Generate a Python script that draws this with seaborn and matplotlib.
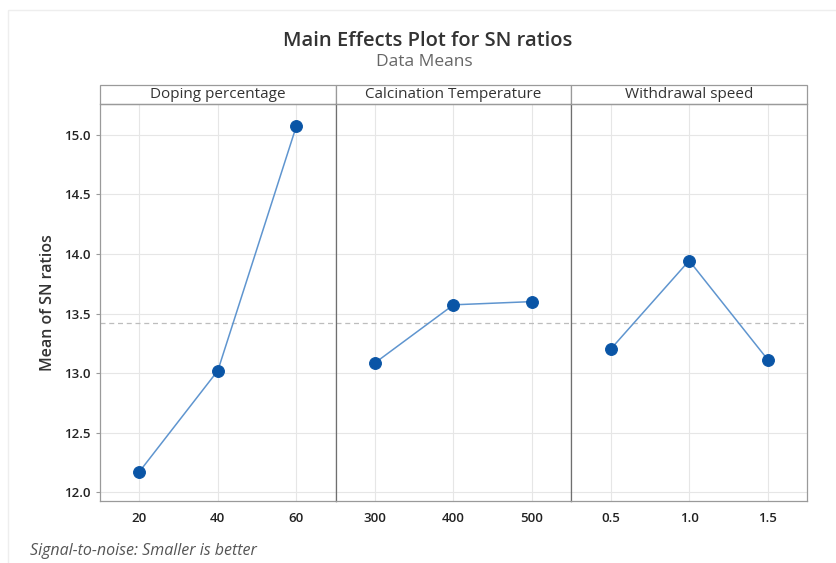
import seaborn as sns
import matplotlib.pyplot as plt
from matplotlib.patches import Rectangle
import pandas as pd
import numpy as np

# factor levels and mean SN ratios
factors = ['Doping percentage', 'Calcination Temperature', 'Withdrawal speed']
doping_levels = [20, 40, 60]
doping_sn = [12.17, 13.02, 15.075]
calc_levels = [300, 400, 500]
calc_sn = [13.085, 13.573, 13.60]
speed_levels = [0.5, 1.0, 1.5]
speed_sn = [13.20, 13.944, 13.113]
speed_labels = ['0.5', '1.0', '1.5']
y_ticks = [12.0, 12.5, 13.0, 13.5, 14.0, 14.5, 15.0]

levels = [doping_levels, calc_levels, speed_levels]
values = [doping_sn, calc_sn, speed_sn]
tick_labels = [[str(v) for v in doping_levels], [str(v) for v in calc_levels], speed_labels]

sns.set_style('white')
plt.rcParams['font.family'] = ['Open Sans', 'DejaVu Sans']

grand_mean = np.mean(doping_sn + calc_sn + speed_sn)

fig, axes = plt.subplots(1, 3, figsize=(8.36, 5.63), dpi=100, sharey=True)
fig.subplots_adjust(left=0.1196, right=0.9653, bottom=0.1101, top=0.8153, wspace=0)

line_col = '#5f95cf'
dot_col = '#0a55a6'
edge_col = '#9a9a9a'

for i, ax in enumerate(axes):
    df = pd.DataFrame({'level': levels[i], 'sn': values[i]})
    sns.lineplot(data=df, x='level', y='sn', ax=ax, color=line_col, lw=1.1,
                 marker='o', markersize=8.5, markerfacecolor=dot_col,
                 markeredgecolor=dot_col)
    step = levels[i][1] - levels[i][0]
    ax.set_xlim(levels[i][0] - step / 2, levels[i][-1] + step / 2)
    ax.set_ylim(11.925, 15.26)
    ax.set_xticks(levels[i])
    ax.set_xticklabels(tick_labels[i])
    ax.set_yticks(y_ticks)
    ax.axhline(grand_mean, color='#bdbdbd', ls=(0, (4, 3)), lw=0.9, zorder=1)
    ax.grid(True, color='#e6e6e6', lw=0.8)
    ax.set_axisbelow(True)
    ax.set_xlabel('')
    ax.set_ylabel('')
    for s in ax.spines.values():
        s.set_color(edge_col)
        s.set_linewidth(0.9)
    ax.tick_params(axis='x', length=3, color=edge_col, labelsize=9.5,
                   labelcolor='#222222', pad=5)
    ax.tick_params(axis='y', length=3, color=edge_col, labelsize=9.5,
                   labelcolor='#222222', left=(i == 0))
    for lab in ax.get_xticklabels() + ax.get_yticklabels():
        lab.set_fontweight('semibold')
    if i > 0:
        ax.spines['left'].set_color('#6f6f6f')
    # strip header above each panel
    strip_h = 19 / 397
    ax.add_patch(Rectangle((0, 1), 1, strip_h, transform=ax.transAxes,
                           facecolor='white', edgecolor=edge_col, lw=0.9,
                           clip_on=False))
    ax.text(0.5, 1 + strip_h / 2, factors[i], transform=ax.transAxes,
            ha='center', va='center', fontsize=11, color='#333333')

axes[0].set_ylabel('Mean of SN ratios', fontsize=11.5, color='#333333',
                   fontweight='semibold', labelpad=6)

fig.text(0.512, 0.928, 'Main Effects Plot for SN ratios', ha='center',
         va='center', fontsize=14.5, color='#333333', fontweight='semibold')
fig.text(0.508, 0.889, 'Data Means', ha='center', va='center',
         fontsize=12.5, color='#666666')
fig.text(0.036, 0.021, 'Signal-to-noise: Smaller is better', ha='left',
         va='center', fontsize=11.5, color='#555555', style='italic')

# faint outer frame
fig.add_artist(Rectangle((0.01, -0.01), 0.995, 0.992, transform=fig.transFigure,
                         facecolor='none', edgecolor='#eeeeee', lw=1))

plt.savefig('out.png', dpi=100)
